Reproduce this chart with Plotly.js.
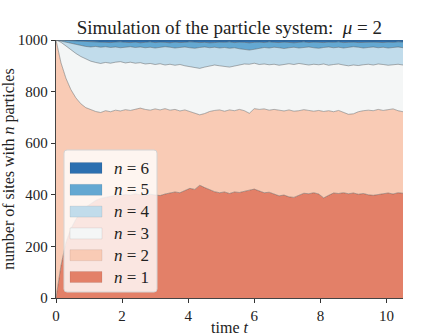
<!DOCTYPE html>
<html>
<head>
<meta charset="utf-8">
<script src="https://cdn.plot.ly/plotly-3.0.1.min.js"></script>
<style>html,body{margin:0;padding:0;background:#fff;}#chart{width:448px;height:336px;}</style>
</head>
<body>
<div id="chart"></div>
<script>
// time grid (t)
const time = [0,0.15,0.3,0.45,0.6,0.75,0.9,1.05,1.2,1.35,1.5,1.65,1.8,1.95,2.1,2.25,2.4,2.55,2.7,2.85,3.0,3.15,3.3,3.45,3.6,3.75,3.9,4.05,4.2,4.35,4.5,4.65,4.8,4.95,5.1,5.25,5.4,5.55,5.7,5.85,6.0,6.15,6.3,6.45,6.6,6.75,6.9,7.05,7.2,7.35,7.5,7.65,7.8,7.95,8.1,8.25,8.4,8.55,8.7,8.85,9.0,9.15,9.3,9.45,9.6,9.75,9.9,10.05,10.2,10.35,10.5];

// cumulative number of sites with at most n particles
const upToN1 = [0,125,215,268,305,332,352,366,378,386,390,394,398,396,401,399,404,400,397,402,399,397,403,407,411,408,417,425,421,437,428,420,412,408,411,405,411,409,415,418,422,414,408,410,402,396,399,392,390,399,406,404,408,403,388,398,407,405,408,404,407,402,405,400,398,401,404,407,403,408,406];
const upToN2 = [1000,912,852,808,776,753,738,729,723,719,726,722,728,725,730,727,733,736,731,728,733,729,734,728,731,725,729,722,716,710,715,723,727,729,724,729,726,731,726,716,734,731,733,728,731,727,725,729,724,726,730,727,724,727,723,726,722,727,720,712,714,722,726,728,726,731,727,729,733,726,722];
const upToN3 = [1000,991,977,962,948,936,926,918,913,909,913,910,914,916,911,914,910,912,907,909,905,908,903,906,902,905,900,897,893,890,895,899,903,900,897,895,899,903,907,906,910,905,907,904,906,902,905,908,905,909,906,903,906,904,907,902,905,907,903,900,903,901,904,906,903,907,905,902,904,906,903];
const upToN4 = [1000,996,991,986,982,978,975,973,975,972,974,971,973,970,972,974,971,973,970,972,969,971,974,972,969,971,973,970,968,971,973,970,972,969,971,968,970,966,963,961,964,968,971,969,972,970,967,970,972,969,971,973,970,968,971,973,970,972,969,971,974,972,969,971,973,970,972,969,971,973,970];
const upToN5 = [1000,999,998,997,996,995,994,993,993,991,992,990,992,993,991,990,992,989,991,993,990,992,991,989,992,990,991,993,992,990,991,989,990,992,991,993,990,992,991,989,991,992,990,993,991,990,992,991,989,991,993,990,992,991,990,992,991,993,990,991,992,990,991,993,992,991,990,992,991,993,992];
const upToN6 = [1000,1000,1000,1000,1000,1000,1000,1000,1000,1000,1000,1000,1000,1000,1000,1000,1000,1000,1000,1000,1000,1000,1000,1000,1000,1000,1000,1000,1000,1000,1000,1000,1000,1000,1000,1000,1000,1000,1000,1000,1000,1000,1000,1000,1000,1000,1000,1000,1000,1000,1000,1000,1000,1000,1000,1000,1000,1000,1000,1000,1000,1000,1000,1000,1000,1000,1000,1000,1000,1000,1000];

const seriesLabels = ['<i>n</i> = 1','<i>n</i> = 2','<i>n</i> = 3','<i>n</i> = 4','<i>n</i> = 5','<i>n</i> = 6'];
const fillColors = ['#e38068','#f9cbb5','#f4f6f6','#c1dceb','#64a8d2','#2c6fb0'];
const stacks = [upToN1, upToN2, upToN3, upToN4, upToN5, upToN6];

const traces = stacks.map((ys, i) => ({
  x: time, y: ys, type: 'scatter', mode: 'lines',
  name: seriesLabels[i],
  fill: i === 0 ? 'tozeroy' : 'tonexty',
  fillcolor: fillColors[i],
  line: {color: 'rgba(70,70,70,0.7)', width: 0.6},
  hoverinfo: 'skip', showlegend: false
}));

const serif = 'Liberation Serif, Times New Roman, serif';

// hand-drawn legend (matplotlib-like boxes) in paper coordinates
const L = {l: 56, t: 40, w: 347, h: 258};
const px = v => (v - L.l) / L.w;
const py = v => (L.t + L.h - v) / L.h;
const shapes = [];
const annotations = [];
(function () {
  const x0 = 64, x1 = 157, y0 = 150, y1 = 292, r = 3;
  const path = `M${px(x0 + r)},${py(y0)} L${px(x1 - r)},${py(y0)} Q${px(x1)},${py(y0)} ${px(x1)},${py(y0 + r)} ` +
    `L${px(x1)},${py(y1 - r)} Q${px(x1)},${py(y1)} ${px(x1 - r)},${py(y1)} L${px(x0 + r)},${py(y1)} ` +
    `Q${px(x0)},${py(y1)} ${px(x0)},${py(y1 - r)} L${px(x0)},${py(y0 + r)} Q${px(x0)},${py(y0)} ${px(x0 + r)},${py(y0)} Z`;
  shapes.push({type: 'path', xref: 'paper', yref: 'paper', path, fillcolor: 'rgba(255,255,255,0.8)',
               line: {color: '#d4d4d4', width: 1}, layer: 'above'});
  const step = 21.8, firstY = 168;
  for (let k = 0; k < 6; k++) {
    const i = 5 - k;
    const cy = firstY + step * k;
    shapes.push({type: 'rect', xref: 'paper', yref: 'paper', x0: px(70), x1: px(102), y0: py(cy - 5.5), y1: py(cy + 5.5),
                 fillcolor: fillColors[i], line: {color: 'rgba(0,0,0,0.12)', width: 0.6}, layer: 'above'});
    annotations.push({xref: 'paper', yref: 'paper', x: px(112), y: py(cy), xanchor: 'left', yanchor: 'middle',
                      text: seriesLabels[i], showarrow: false, font: {family: serif, size: 17, color: '#222'}});
  }
})();

const layout = {
  width: 448, height: 336,
  margin: {l: 56, r: 45, t: 40, b: 38},
  paper_bgcolor: '#fff', plot_bgcolor: '#fff',
  font: {family: serif, size: 14, color: '#222'},
  title: {text: 'Simulation of the particle system:  <i>μ</i> = 2', font: {family: serif, size: 19, color: '#222'},
          x: 0.512, xanchor: 'center', y: 0.918, yanchor: 'middle', yref: 'container'},
  xaxis: {range: [0, 10.5], tickvals: [0,2,4,6,8,10], ticks: 'outside', ticklen: 4, tickwidth: 1, tickcolor: '#333',
          showline: true, linecolor: '#444', linewidth: 1.2, showgrid: false, zeroline: false,
          tickfont: {family: serif, size: 15, color: '#222'},
          title: {text: 'time <i>t</i>', font: {family: serif, size: 16, color: '#222'}, standoff: 2}},
  yaxis: {range: [0, 1000], tickvals: [0,200,400,600,800,1000], ticks: 'outside', ticklen: 4, tickwidth: 1, tickcolor: '#333',
          showline: true, linecolor: '#444', linewidth: 1.2, showgrid: false, zeroline: false,
          tickfont: {family: serif, size: 15, color: '#222'},
          title: {text: 'number of sites with <i>n</i> particles', font: {family: serif, size: 16, color: '#222'}, standoff: 4}},
  shapes, annotations,
  showlegend: false
};

Plotly.newPlot('chart', traces, layout, {staticPlot: true, displayModeBar: false});
</script>
</body>
</html>
